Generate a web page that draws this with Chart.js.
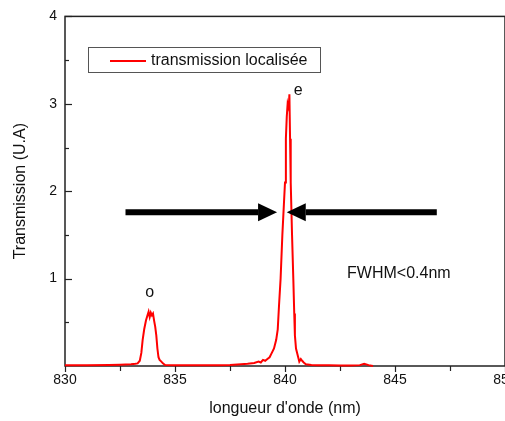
<!DOCTYPE html>
<html>
<head>
<meta charset="utf-8">
<script src="https://cdn.jsdelivr.net/npm/chart.js@4/dist/chart.umd.min.js"></script>
<style>
  html, body { margin: 0; padding: 0; overflow: hidden; background: #fff; }
  #wrap { width: 530px; height: 421px; }
</style>
</head>
<body>
<div id="wrap"><canvas id="myChart"></canvas></div>
<script>
// wavelength (nm) and transmission (U.A)
const wavelength = [
  830, 831, 832, 832.5, 833, 833.2, 833.3, 833.4, 833.47, 833.53, 833.6, 833.68, 833.75,
  833.8, 833.85, 833.9, 833.95, 834, 834.05, 834.1, 834.15, 834.2, 834.25, 834.3, 834.38,
  834.45, 834.55, 835, 836, 837, 837.5, 838, 838.3, 838.6, 838.8, 838.9, 839, 839.1, 839.2,
  839.3, 839.4, 839.5, 839.6, 839.67, 839.73, 839.8, 839.88, 839.95, 840, 840.04, 840.08,
  840.12, 840.17, 840.2, 840.23, 840.26, 840.32, 840.38, 840.42, 840.45, 840.5, 840.6,
  840.65, 840.72, 840.78, 840.85, 840.95, 841.2, 841.5, 842, 842.5, 843, 843.4, 843.6,
  843.8, 844
];
const transmission = [
  0.01, 0.01, 0.012, 0.015, 0.02, 0.025, 0.03, 0.06, 0.15, 0.3, 0.42, 0.52, 0.58,
  0.62, 0.56, 0.61, 0.58, 0.6, 0.52, 0.45, 0.35, 0.2, 0.1, 0.07, 0.05,
  0.03, 0.012, 0.01, 0.01, 0.01, 0.012, 0.02, 0.025, 0.035, 0.05, 0.04, 0.07, 0.06, 0.08,
  0.1, 0.15, 0.2, 0.3, 0.42, 0.7, 1.0, 1.5, 1.85, 2.1, 2.6, 2.85,
  3.0, 2.95, 3.11, 2.6, 2.1, 1.5, 0.98, 0.6, 0.35, 0.2, 0.1,
  0.05, 0.08, 0.06, 0.04, 0.02, 0.012, 0.01, 0.01, 0.005, 0.005, 0.01, 0.025,
  0.01, 0
];
const xTicks = [830, 835, 840, 845, 850];
const yTicks = [1, 2, 3, 4];
const seriesLabel = 'transmission localisée';
const peakLabels = [
  { text: 'o', x: 833.85, y: 0.84 },
  { text: 'e', x: 840.6, y: 3.15 }
];
const fwhmNote = { text: 'FWHM<0.4nm', x: 842.82, y: 1.06 };
// arrows: [from x, tip x, y]
const arrows = [[832.75, 839.64, 1.76], [846.9, 840.08, 1.76]];

const FONT = '"Liberation Sans", Arial, sans-serif';
const AXIS = '#222';

const frame = {
  id: 'frame',
  beforeDatasetsDraw(chart) {
    const { ctx, chartArea: { left, top, right, bottom }, scales: { x, y } } = chart;
    ctx.save();
    ctx.strokeStyle = AXIS;
    ctx.lineWidth = 1.5;
    ctx.strokeRect(left, top, right - left, bottom - top);
    ctx.lineWidth = 1.2;
    // x ticks, outward
    for (let v = 830; v <= 850; v += 2.5) {
      const px = Math.round(x.getPixelForValue(v)) + 0.5;
      ctx.beginPath();
      ctx.moveTo(px, bottom);
      ctx.lineTo(px, bottom + (v % 5 === 0 ? 6 : 5));
      ctx.stroke();
    }
    // y ticks, inward
    for (let v = 0.5; v <= 4; v += 0.5) {
      const py = Math.round(y.getPixelForValue(v)) + 0.5;
      ctx.beginPath();
      ctx.moveTo(left, py);
      ctx.lineTo(left + (Number.isInteger(v) ? 7 : 4), py);
      ctx.stroke();
    }
    ctx.restore();
  },
  afterDatasetsDraw(chart) {
    const { ctx, scales: { x, y } } = chart;
    ctx.save();
    // legend box
    ctx.strokeStyle = '#555';
    ctx.lineWidth = 1;
    ctx.strokeRect(88.5, 47.5, 232, 25);
    ctx.strokeStyle = chart.data.datasets[0].borderColor;
    ctx.lineWidth = 2;
    ctx.beginPath();
    ctx.moveTo(110, 61);
    ctx.lineTo(146, 61);
    ctx.stroke();
    ctx.fillStyle = '#111';
    ctx.font = '16px ' + FONT;
    ctx.textBaseline = 'middle';
    ctx.textAlign = 'left';
    ctx.fillText(chart.data.datasets[0].label, 151, 61);
    // peak letters and note
    ctx.textAlign = 'center';
    peakLabels.forEach(p => ctx.fillText(p.text, x.getPixelForValue(p.x), y.getPixelForValue(p.y)));
    ctx.textAlign = 'left';
    ctx.fillText(fwhmNote.text, x.getPixelForValue(fwhmNote.x), y.getPixelForValue(fwhmNote.y));
    // arrows
    ctx.fillStyle = '#000';
    ctx.strokeStyle = '#000';
    arrows.forEach(([from, tip, yv]) => {
      const x0 = x.getPixelForValue(from), x1 = x.getPixelForValue(tip), py = y.getPixelForValue(yv);
      const dir = Math.sign(x1 - x0), head = 19;
      ctx.lineWidth = 6;
      ctx.beginPath();
      ctx.moveTo(x0, py);
      ctx.lineTo(x1 - dir * head, py);
      ctx.stroke();
      ctx.beginPath();
      ctx.moveTo(x1, py);
      ctx.lineTo(x1 - dir * head, py - 9);
      ctx.lineTo(x1 - dir * head, py + 9);
      ctx.closePath();
      ctx.fill();
    });
    ctx.restore();
  }
};

const config = {
  type: 'line',
  data: {
    datasets: [{
      label: seriesLabel,
      data: wavelength.map((w, i) => ({ x: w, y: transmission[i] })),
      borderColor: '#ff0000',
      borderWidth: 2,
      pointRadius: 0,
      tension: 0,
      clip: false
    }]
  },
  plugins: [frame],
  options: {
    animation: false,
    responsive: true,
    maintainAspectRatio: false,
    layout: { padding: { top: 13, right: 25, left: 0, bottom: 0 } },
    plugins: { legend: { display: false }, tooltip: { enabled: false } },
    scales: {
      x: {
        type: 'linear',
        min: 830, max: 850,
        grid: { display: false, drawTicks: false },
        border: { display: false },
        ticks: {
          stepSize: 5,
          padding: 6,
          color: '#111',
          font: { family: FONT, size: 14 },
          callback: v => xTicks.includes(v) ? String(v) : ''
        },
        title: {
          display: true,
          text: "longueur d'onde (nm)",
          color: '#111',
          font: { family: FONT, size: 16 },
          padding: { top: 0, bottom: 3 }
        },
        afterFit: s => { s.height = 55; }
      },
      y: {
        min: 0, max: 4,
        grid: { display: false, drawTicks: false },
        border: { display: false },
        ticks: {
          stepSize: 1,
          padding: 8,
          color: '#111',
          font: { family: FONT, size: 14 },
          callback: v => yTicks.includes(v) ? String(v) : ''
        },
        title: {
          display: true,
          text: 'Transmission (U.A)',
          color: '#111',
          font: { family: FONT, size: 16 },
          padding: { top: 11, bottom: 0 }
        },
        afterFit: s => { s.width = 65; }
      }
    }
  }
};

new Chart(document.getElementById('myChart'), config);
</script>
</body>
</html>
